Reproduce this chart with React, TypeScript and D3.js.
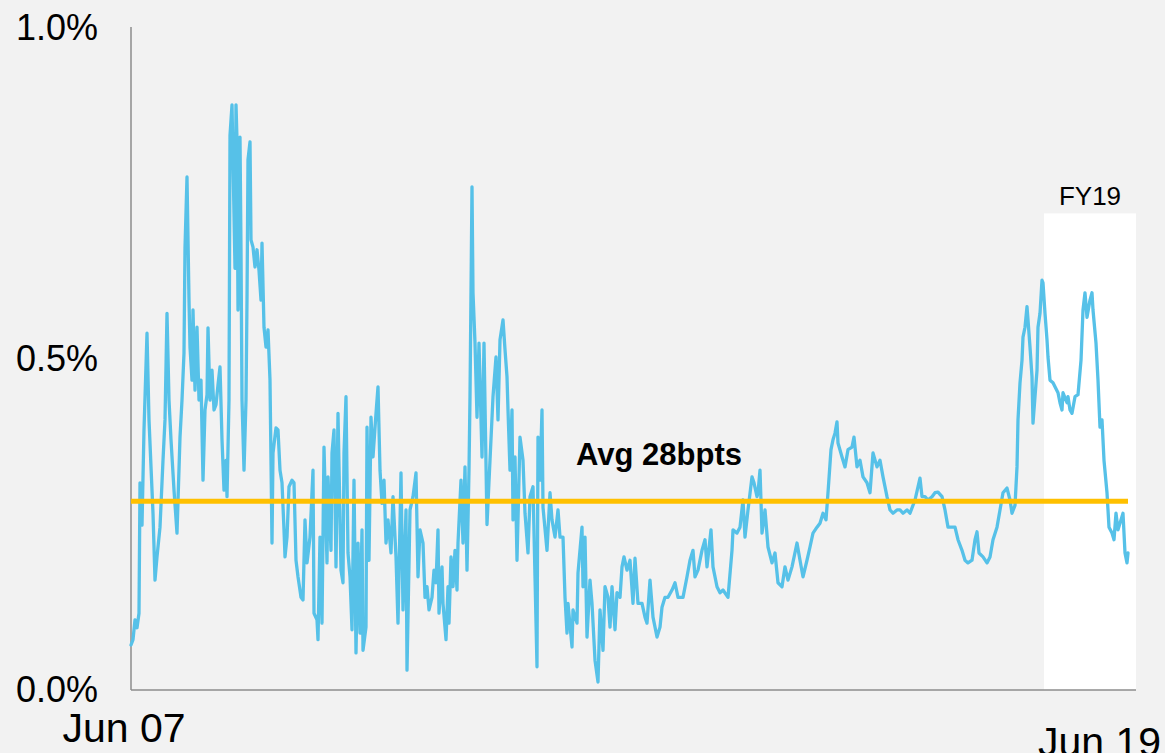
import React from "react";
import * as d3 from "d3";

// trading-day index since Jun 2007, spread in %
const series: [number, number][] = [
  [0,0.068],[6,0.076],[12,0.106],[18,0.094],[24,0.116],[27,0.313],[33,0.249],[39,0.393],[48,0.539],[54,0.408],
  [60,0.337],[66,0.267],[72,0.166],[78,0.201],[87,0.246],[96,0.347],[102,0.408],[108,0.569],[114,0.438],[120,0.378],
  [129,0.302],[138,0.237],[147,0.382],[153,0.438],[159,0.509],[162,0.668],[168,0.775],[174,0.589],[177,0.518],[183,0.468],
  [186,0.574],[192,0.453],[198,0.548],[204,0.438],[210,0.468],[216,0.317],[222,0.423],[228,0.446],[231,0.547],[237,0.438],
  [243,0.483],[249,0.423],[255,0.431],[261,0.461],[267,0.488],[273,0.378],[279,0.302],[285,0.347],[288,0.292],[294,0.438],
  [297,0.838],[303,0.884],[306,0.801],[312,0.637],[315,0.884],[318,0.831],[321,0.574],[327,0.835],[330,0.665],[333,0.438],
  [339,0.332],[345,0.438],[348,0.589],[351,0.801],[357,0.828],[360,0.68],[366,0.669],[372,0.639],[378,0.665],[384,0.634],
  [390,0.589],[393,0.675],[399,0.548],[405,0.518],[411,0.544],[417,0.468],
  [423,0.222],[426,0.358],[435,0.396],[441,0.393],[447,0.332],[453,0.313],[459,0.242],[462,0.201],[468,0.231],[474,0.307],
  [483,0.317],[489,0.313],[495,0.196],[501,0.171],[510,0.14],[516,0.136],[522,0.257],[528,0.192],[537,0.231],[546,0.332],
  [549,0.116],[558,0.106],[561,0.076],[567,0.231],[573,0.101],[579,0.367],[588,0.192],[591,0.322],[600,0.211],[603,0.358],
  [609,0.393],[615,0.186],[621,0.418],[630,0.181],[636,0.162],[639,0.358],[645,0.443],[651,0.207],[657,0.171],[663,0.091],
  [669,0.317],[675,0.056],[681,0.222],[687,0.086],[693,0.242],[696,0.06],[705,0.095],[708,0.397],[714,0.196],[720,0.412],
  [726,0.352],[735,0.418],[741,0.458],[747,0.332],[753,0.282],[759,0.317],[765,0.222],[771,0.257],[780,0.207],[786,0.292],
  [795,0.201],[801,0.101],[810,0.328],[816,0.121],[825,0.272],[828,0.03],[837,0.272],[846,0.292],[855,0.328],[861,0.171],
  [867,0.242],[876,0.222],[882,0.14],[888,0.156],[894,0.121],[903,0.14],[909,0.181],[915,0.162],[921,0.242],[924,0.116],
  [933,0.186],[936,0.131],[945,0.076],[951,0.156],[954,0.101],[960,0.201],[966,0.156],[972,0.211],[978,0.151],[981,0.222],
  [990,0.317],[996,0.222],[1002,0.337],[1008,0.181],[1014,0.332],
  [1017,0.443],[1023,0.76],[1026,0.6],[1032,0.524],[1038,0.412],[1044,0.524],[1053,0.352],
  [1059,0.524],[1068,0.25],[1077,0.347],[1086,0.443],[1095,0.503],[1101,0.408],[1107,0.529],[1116,0.559],[1122,0.514],[1128,0.473],
  [1131,0.423],[1137,0.332],[1143,0.423],[1146,0.257],[1152,0.352],[1158,0.196],[1167,0.382],[1176,0.347],[1182,0.267],[1191,0.207],
  [1197,0.292],[1206,0.307],[1212,0.171],[1218,0.035],[1221,0.382],[1227,0.317],[1233,0.423],[1236,0.276],[1248,0.211],[1257,0.298],
  [1263,0.257],[1272,0.231],[1281,0.272],[1287,0.231],[1296,0.231],[1302,0.14],[1308,0.086],[1311,0.131],[1323,0.065],[1326,0.121],
  [1338,0.101],[1341,0.177],[1353,0.246],[1356,0.156],[1362,0.231],[1368,0.08],[1377,0.166],[1383,0.131],[1392,0.045],[1401,0.012],
  [1407,0.121],[1416,0.06],[1422,0.156],[1431,0.14],[1437,0.095],[1443,0.156],[1452,0.091],[1458,0.147],[1467,0.14],[1473,0.186],
  [1479,0.201],[1488,0.181],[1497,0.196],[1506,0.131],[1512,0.199],[1521,0.131],[1533,0.131],[1542,0.11],[1548,0.101],[1557,0.166],
  [1566,0.11],[1578,0.08],[1587,0.095],[1593,0.125],[1602,0.14],[1611,0.14],[1623,0.151],[1632,0.162],[1641,0.14],[1656,0.14],
  [1668,0.171],[1677,0.196],[1686,0.211],[1692,0.171],[1701,0.181],[1713,0.211],[1722,0.227],[1728,0.186],[1740,0.242],[1746,0.186],
  [1758,0.156],[1767,0.147],[1776,0.151],[1791,0.14],[1803,0.211],[1806,0.242],[1818,0.237],[1827,0.246],[1836,0.287],[1842,0.231],
  [1851,0.272],[1863,0.322],[1869,0.313],[1878,0.292],[1881,0.298],[1887,0.332],[1893,0.237],[1902,0.272],[1911,0.216],[1923,0.192],
  [1932,0.207],[1941,0.162],[1953,0.156],[1962,0.186],[1971,0.166],[1983,0.186],[1998,0.222],[2007,0.196],[2016,0.171],[2028,0.196],
  [2037,0.216],[2046,0.237],[2058,0.246],[2067,0.252],[2076,0.267],[2085,0.257],[2091,0.298],[2100,0.363],[2106,0.378],[2112,0.388],
  [2118,0.405],[2121,0.373],[2133,0.352],[2142,0.337],[2151,0.363],[2163,0.367],[2169,0.382],[2178,0.337],[2187,0.347],[2196,0.322],
  [2208,0.313],[2217,0.298],[2226,0.358],[2238,0.337],[2247,0.347],[2256,0.322],[2268,0.292],[2277,0.272],[2286,0.267],[2298,0.272],
  [2307,0.272],[2316,0.267],[2328,0.272],[2337,0.267],[2352,0.287],[2361,0.307],[2367,0.32],[2373,0.292],[2382,0.292],[2391,0.287],
  [2403,0.292],[2412,0.298],[2421,0.299],[2433,0.292],[2442,0.272],[2451,0.246],[2463,0.246],[2472,0.246],[2481,0.227],[2493,0.211],
  [2502,0.196],[2511,0.192],[2523,0.196],[2532,0.227],[2538,0.239],[2544,0.207],[2556,0.201],[2568,0.192],[2577,0.201],[2586,0.227],
  [2598,0.246],[2607,0.272],[2616,0.298],[2628,0.305],[2637,0.287],[2643,0.267],[2652,0.279],[2658,0.337],[2661,0.408],[2667,0.464],
  [2673,0.498],[2676,0.533],[2682,0.548],[2688,0.579],[2691,0.559],[2697,0.518],[2703,0.473],[2706,0.403],[2712,0.443],[2718,0.483],
  [2721,0.548],[2727,0.569],[2733,0.619],[2736,0.615],[2742,0.569],[2748,0.529],[2751,0.503],[2757,0.468],[2766,0.464],[2772,0.458],
  [2781,0.449],[2787,0.434],[2793,0.423],[2796,0.449],[2808,0.434],[2811,0.443],[2817,0.423],[2823,0.418],[2832,0.443],[2841,0.446],
  [2850,0.498],[2856,0.574],[2862,0.6],[2868,0.563],[2877,0.589],[2883,0.6],[2886,0.574],[2895,0.524],[2901,0.468],[2907,0.397],
  [2913,0.408],[2919,0.347],[2928,0.298],[2934,0.246],[2943,0.237],[2949,0.227],[2955,0.267],[2961,0.242],[2970,0.257],[2976,0.267],
  [2982,0.207],[2988,0.192],[2991,0.207],
];

const average = 0.285;
const avgLabel = "Avg 28bpts";
const yTicks = [0, 0.5, 1.0];
const yTickLabels = ["0.0%", "0.5%", "1.0%"];
const xLabels = ["Jun 07", "Jun 19"];
const dayDomain: [number, number] = [0, 3015];
const fy19Start = 2739;
const fy19Label = "FY19";
const fy19Top = 0.72;

const W = 1165;
const H = 753;
const FONT = "Liberation Sans, Arial, sans-serif";

export default function App() {
  const x = d3.scaleLinear().domain(dayDomain).range([131, 1136]);
  const y = d3.scaleLinear().domain([0, 1]).range([690, 28]);
  const line = d3
    .line<[number, number]>()
    .x((d) => x(d[0]))
    .y((d) => y(d[1]));
  const lastDay = series[series.length - 1][0];

  return (
    <svg
      width={W}
      height={H}
      style={{ position: "absolute", left: 0, top: 0, display: "block" }}
      fontFamily={FONT}
    >
      <rect x={0} y={0} width={W} height={H} fill="#f2f2f2" />
      <rect
        x={x(fy19Start)}
        y={y(fy19Top)}
        width={x(dayDomain[1]) - x(fy19Start)}
        height={y(0) - y(fy19Top)}
        fill="#ffffff"
      />
      <text
        x={(x(fy19Start) + x(dayDomain[1])) / 2}
        y={y(fy19Top) - 8}
        fontSize={26}
        textAnchor="middle"
        fill="#000"
      >
        {fy19Label}
      </text>
      <line x1={x(0)} x2={x(0)} y1={y(1) - 1} y2={y(0)} stroke="#8c8c8c" strokeWidth={1.5} />
      <line x1={x(0)} x2={x(dayDomain[1])} y1={y(0)} y2={y(0)} stroke="#8c8c8c" strokeWidth={1.5} />
      <path
        d={line(series) || ""}
        fill="none"
        stroke="#56c1e8"
        strokeWidth={3.3}
        strokeLinejoin="round"
        strokeLinecap="round"
      />
      <line
        x1={x(0)}
        x2={x(lastDay)}
        y1={y(average)}
        y2={y(average)}
        stroke="#ffc000"
        strokeWidth={5}
      />
      <text x={659} y={465} fontSize={31} fontWeight="bold" textAnchor="middle" fill="#000">
        {avgLabel}
      </text>
      {yTicks.map((t, i) => (
        <text key={t} x={98} y={y(t) + 12} fontSize={36} textAnchor="end" fill="#000">
          {yTickLabels[i]}
        </text>
      ))}
      <text x={124} y={742} fontSize={41} textAnchor="middle" fill="#000">
        {xLabels[0]}
      </text>
      <text x={1038} y={756} fontSize={41} textAnchor="start" fill="#000">
        {xLabels[1]}
      </text>
    </svg>
  );
}
